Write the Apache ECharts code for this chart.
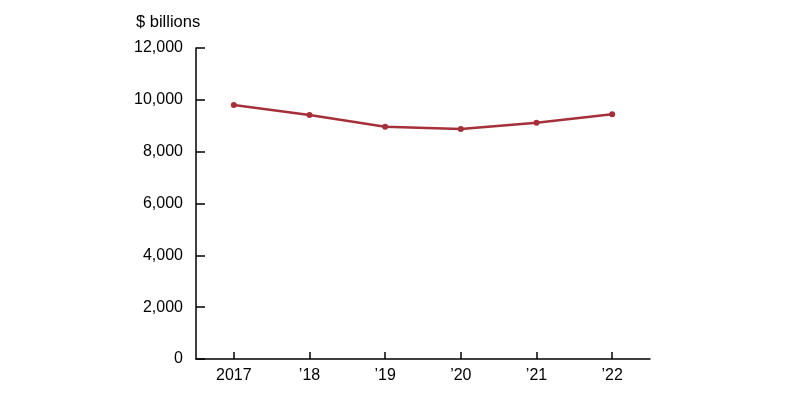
<!DOCTYPE html>
<html><head><meta charset="utf-8">
<script src="https://cdn.jsdelivr.net/npm/echarts@6/dist/echarts.min.js"></script>
<style>html,body{margin:0;padding:0;background:#fff}#c{width:800px;height:393px}</style>
</head><body><div id="c"></div>
<script>
var categories = ['2017', '\u201918', '\u201919', '\u201920', '\u201921', '\u201922'];
var values = [9800, 9415, 8960, 8875, 9115, 9440];
var yTicks = [0, 2000, 4000, 6000, 8000, 10000, 12000];
var unitLabel = '$ billions';

var chart = echarts.init(document.getElementById('c'), null, {renderer: 'canvas'});
var font = 'Liberation Sans, Arial, Helvetica, sans-serif';
chart.setOption({
  animation: false,
  backgroundColor: '#fff',
  grid: {left: 196, right: 150, top: 48, bottom: 34, containLabel: false},
  graphic: [{
    type: 'text', left: 136, top: 14,
    style: {text: unitLabel, font: '16.5px ' + font, fill: '#000'}
  }],
  xAxis: {
    type: 'category', data: categories, boundaryGap: true,
    axisLine: {lineStyle: {color: '#000', width: 1.5}},
    axisTick: {show: true, inside: true, alignWithLabel: true, length: 7, lineStyle: {color: '#000', width: 1.5}},
    axisLabel: {color: '#000', fontSize: 16, fontFamily: font, margin: 9}
  },
  yAxis: {
    type: 'value', min: 0, max: 12000, interval: 2000,
    axisLine: {show: true, lineStyle: {color: '#000', width: 1.5}},
    axisTick: {show: true, inside: true, length: 9, lineStyle: {color: '#000', width: 1.5}},
    splitLine: {show: false},
    axisLabel: {color: '#000', fontSize: 16, fontFamily: font, margin: 13,
      formatter: function (v) { return yTicks.indexOf(v) >= 0 ? v.toLocaleString('en-US') : ''; }}
  },
  series: [{
    type: 'line', data: values,
    itemStyle: {color: '#a5303a'},
    lineStyle: {color: '#a5303a', width: 2.5},
    symbol: 'circle', symbolSize: 6
  }]
});
</script></body></html>
